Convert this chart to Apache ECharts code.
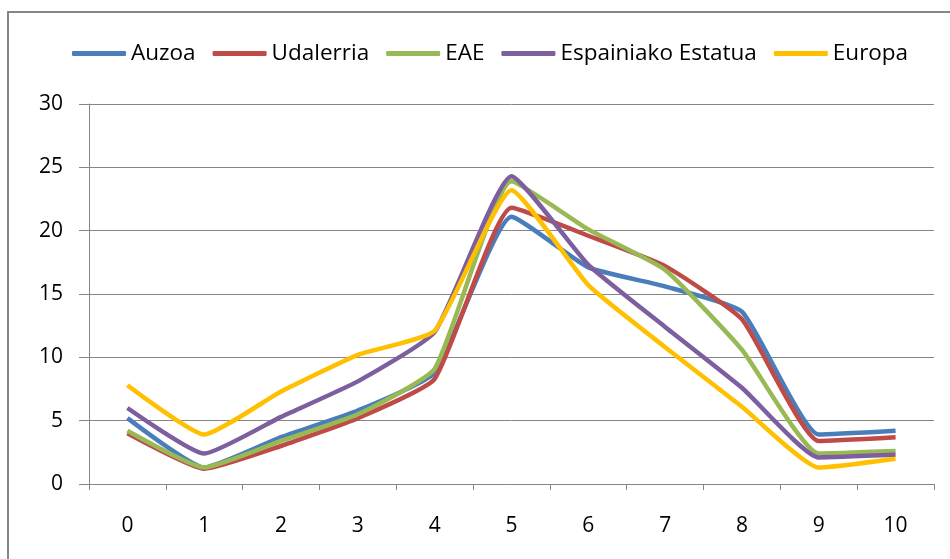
<!DOCTYPE html>
<html>
<head>
<meta charset="utf-8">
<script src="https://cdn.jsdelivr.net/npm/echarts@6/dist/echarts.min.js"></script>
<style>
  html, body { margin: 0; padding: 0; background: #fff; }
  #chart { width: 950px; height: 559px; }
</style>
</head>
<body>
<div id="chart"></div>
<script>
// categories on x axis
var categories = ['0', '1', '2', '3', '4', '5', '6', '7', '8', '9', '10'];

// series values
var auzoa      = [5.2, 1.3, 3.7, 5.8, 8.8, 21.1, 17.1, 15.6, 13.6, 3.9, 4.2];
var udalerria  = [4.0, 1.2, 3.0, 5.2, 8.3, 21.8, 19.6, 17.2, 13.0, 3.4, 3.7];
var eae        = [4.2, 1.3, 3.4, 5.5, 9.1, 23.9, 20.1, 16.9, 10.6, 2.4, 2.6];
var espainiako = [6.0, 2.4, 5.3, 8.1, 12.0, 24.3, 17.3, 12.4, 7.6, 2.1, 2.3];
var europa     = [7.8, 3.9, 7.3, 10.2, 12.1, 23.2, 15.7, 10.8, 6.1, 1.3, 2.0];

var names  = ['Auzoa', 'Udalerria', 'EAE', 'Espainiako Estatua', 'Europa'];
var values = [auzoa, udalerria, eae, espainiako, europa];
var colors = ['#4a7ebb', '#be4b48', '#98b954', '#7d5fa0', '#ffc000'];

var font = '"Open Sans", "DejaVu Sans", sans-serif';

var chart = echarts.init(document.getElementById('chart'));

chart.setOption({
  animation: false,
  backgroundColor: '#fff',
  color: colors,
  graphic: [{
    // outer frame of the chart area
    type: 'rect',
    shape: { x: 8, y: 12, width: 1000, height: 1000 },
    style: { fill: 'none', stroke: '#868686', lineWidth: 2 },
    silent: true
  }],
  legend: {
    top: 37,
    left: 67,
    itemWidth: 54,
    itemHeight: 5,
    itemGap: 17,
    icon: 'roundRect',
    textStyle: { fontFamily: font, fontSize: 22.5, color: '#000', padding: [0, 0, 0, 0] },
    data: names
  },
  grid: { left: 89, right: 16, top: 104, bottom: 75 },
  xAxis: {
    type: 'category',
    data: categories,
    boundaryGap: true,
    axisLine: { lineStyle: { color: '#868686', width: 1 } },
    axisTick: { show: true, length: 6, lineStyle: { color: '#868686' } },
    axisLabel: { fontFamily: font, fontSize: 21, color: '#000', margin: 32 },
    splitLine: { show: false }
  },
  yAxis: {
    type: 'value',
    min: 0,
    max: 30,
    interval: 5,
    axisLine: { show: true, lineStyle: { color: '#868686', width: 1 } },
    axisTick: { show: true, length: 10, lineStyle: { color: '#868686' } },
    axisLabel: { fontFamily: font, fontSize: 21, color: '#000', margin: 26 },
    splitLine: { show: true, lineStyle: { color: '#868686', width: 1 } }
  },
  series: names.map(function (n, i) {
    return {
      name: n,
      type: 'line',
      data: values[i],
      smooth: 0.15,
      symbol: 'none',
      lineStyle: { width: 4.5, color: colors[i] },
      itemStyle: { color: colors[i] }
    };
  })
});
</script>
</body>
</html>
